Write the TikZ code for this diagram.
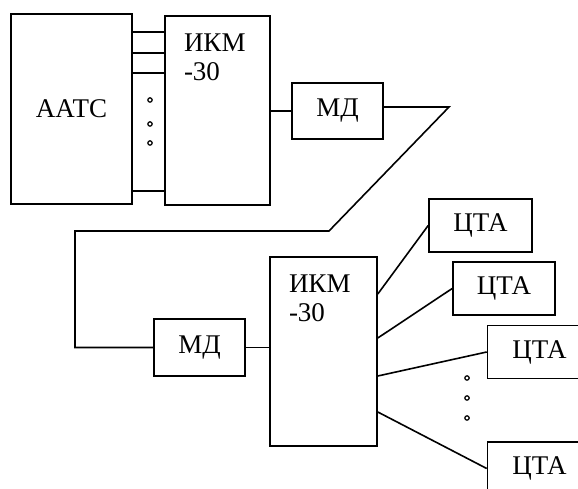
\documentclass[tikz,border=0pt]{standalone}
\usepackage{fontspec}
\setmainfont{Liberation Serif}
\usetikzlibrary{positioning}

\begin{document}
\begin{tikzpicture}[x=1pt, y=1pt, line width=1.6pt,
    every node/.style={font=\fontsize{27}{29}\selectfont},
    blk/.style={draw, rectangle, inner sep=0pt},
    ikmtext/.style={anchor=north west, align=left, inner sep=0pt, xshift=19pt, yshift=-18pt}]
  \clip (0,0) rectangle (578,489);
  % station side
  \node[blk, minimum width=121, minimum height=190] (aats) at (71.5,380) {ААТС};
  \node[blk, minimum width=105, minimum height=189, label={[ikmtext]north west:ИКМ\\-30}] (ikm1) at (217.5,378.5) {};
  \node[blk, minimum width=91, minimum height=56] (md1) at (337.5,378) {МД};
  % subscriber side
  \node[blk, minimum width=91, minimum height=57] (md2) at (199.5,141.5) {МД};
  \node[blk, minimum width=107, minimum height=189, label={[ikmtext]north west:ИКМ\\-30}] (ikm2) at (323.5,137.5) {};
  \node[blk, minimum width=103, minimum height=53] (cta1) at (480.5,263.5) {ЦТА};
  \node[blk, minimum width=102, minimum height=53] (cta2) at (504,200.5) {ЦТА};
  \node[blk, minimum width=104, minimum height=53] (cta3) at (539.5,137) {ЦТА};
  \node[blk, minimum width=104, minimum height=53] (cta4) at (539.5,20.5) {ЦТА};

  \foreach \dy in {77,56,36,-82}
    \draw ([yshift=\dy]aats.east) coordinate (p) -- (p -| ikm1.west);
  \foreach \y in {389,365,346}
    \draw[line width=1.2pt] (150,\y) circle (2.2);
  \draw (md1.west) -- (md1.west -| ikm1.east);

  % line
  \coordinate (t1) at (449,382);
  \coordinate (t2) at (329,258);
  \coordinate (t3) at (75,258);
  \draw (md1.east |- t1) -- (t1) -- (t2) -- (t3) |- (md2.west);
  \draw (md2.east) -- (md2.east -| ikm2.west);

  \foreach \dy/\t in {57.5/cta1, 13.5/cta2, -24.5/cta3, -60.5/cta4}
    \draw ([yshift=\dy]ikm2.east) -- (\t.west);
  \foreach \y in {111,91,71}
    \draw[line width=1.2pt] (467,\y) circle (2.2);
\end{tikzpicture}
\end{document}
